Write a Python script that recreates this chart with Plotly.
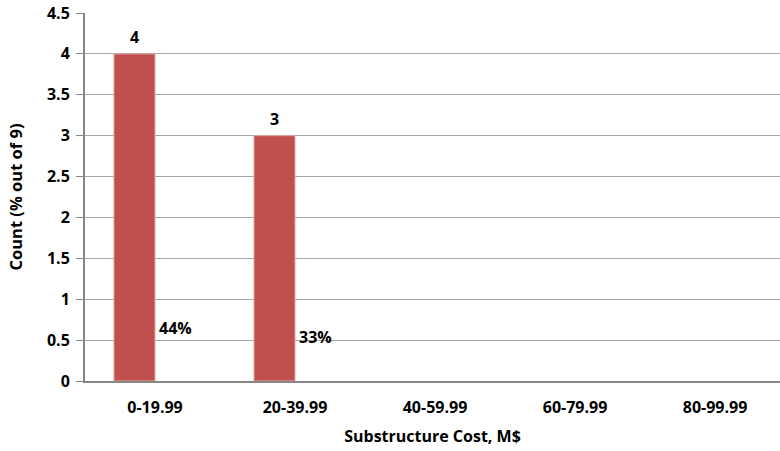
import plotly.graph_objects as go

categories = ["0-19.99", "20-39.99", "40-59.99", "60-79.99", "80-99.99"]
counts = [4, 3, 0, 0, 0]
count_labels = ["4", "3", "", "", ""]
percents = [0.44, 0.33, 0, 0, 0]
percent_labels = ["44%", "33%", "", "", ""]
y_ticks = [0, 0.5, 1, 1.5, 2, 2.5, 3, 3.5, 4, 4.5]

FONT = "Open Sans"
fig = go.Figure()
fig.add_trace(go.Bar(x=categories, y=counts,
                     marker=dict(color="#C0504D",
                                 line=dict(color="#E2A9A7", width=[1 if v > 0 else 0 for v in counts])),
                     name="Count", hoverinfo="x+y"))
fig.add_trace(go.Bar(x=categories, y=percents, marker=dict(color="#C0504D", opacity=0, line=dict(width=0)),
                     name="Percent"))

annotations = []
for c, v, t in zip(categories, counts, count_labels):
    if t:
        annotations.append(dict(x=c, y=v, text=t, showarrow=False, xshift=-20.5, yshift=17,
                                yanchor="middle", font=dict(family=FONT, size=16, color="#000", weight="bold")))
for c, v, t in zip(categories, percents, percent_labels):
    if t:
        annotations.append(dict(x=c, y=v, text=t, showarrow=False, xshift=20.5, yshift=17,
                                yanchor="middle", font=dict(family=FONT, size=16, color="#000", weight="bold")))

fig.update_layout(
    width=780, height=451,
    margin=dict(l=85, r=0, t=13, b=70),
    paper_bgcolor="white", plot_bgcolor="white",
    barmode="group", bargap=0.414, bargroupgap=0,
    showlegend=False,
    font=dict(family=FONT, size=16, color="#000"),
    annotations=annotations,
    xaxis=dict(
        type="category", range=[-0.5, 4.464], automargin=False,
        showline=True, linecolor="#868686", linewidth=2,
        showgrid=False, ticks="",
        tickfont=dict(family=FONT, size=16, color="#000", weight="bold"),
        ticklabelstandoff=11,
        title=dict(text="Substructure Cost, M$", standoff=14,
                   font=dict(family=FONT, size=16, color="#000", weight="bold")),
    ),
    yaxis=dict(
        range=[0, 4.5], tickvals=y_ticks, ticktext=[f"{v:g}" for v in y_ticks], automargin=False,
        showline=True, linecolor="#868686", linewidth=2,
        showgrid=True, gridcolor="#A6A6A6", gridwidth=1,
        ticks="outside", ticklen=7, tickcolor="#868686", tickwidth=1,
        tickfont=dict(family=FONT, size=16, color="#000", weight="bold"),
        ticklabelstandoff=3,
        zeroline=False,
        title=dict(text="Count (% out of 9)", standoff=20,
                   font=dict(family=FONT, size=16.5, color="#000", weight="bold")),
    ),
)

fig.write_html("out.html", config={"displayModeBar": False},
               post_script="document.body.style.margin='0';")
